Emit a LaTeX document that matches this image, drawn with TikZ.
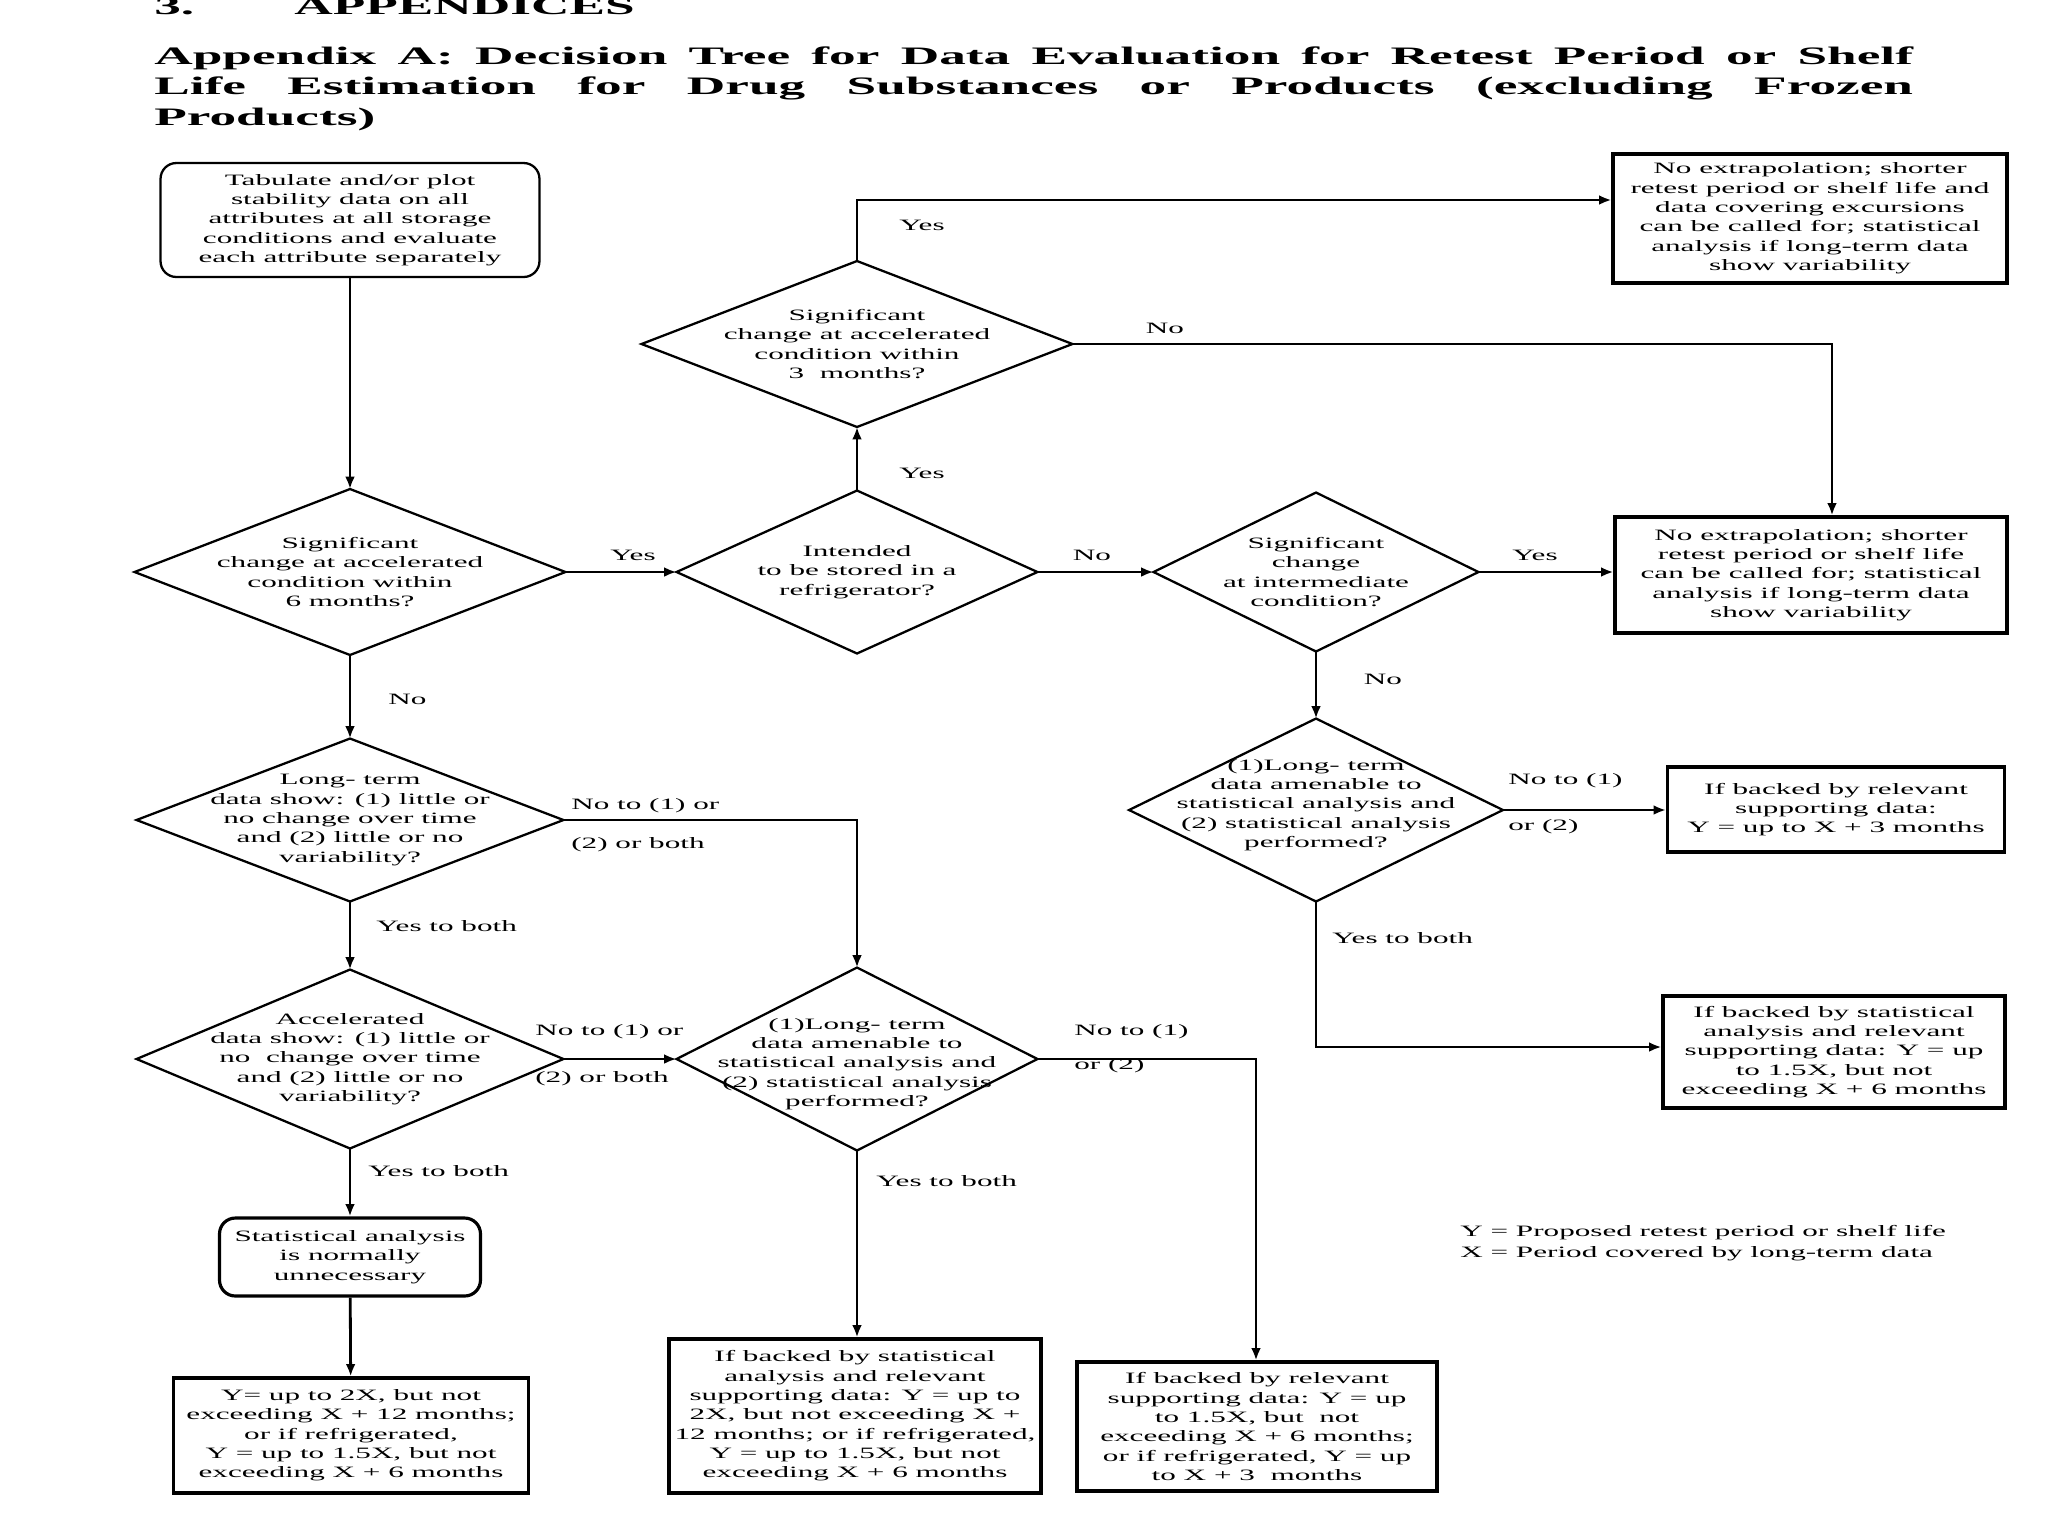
\documentclass[tikz,border=0pt]{standalone}
\usepackage{fontspec}
\setmainfont{Liberation Serif}[FakeStretch=1.97]
\newfontfamily\titlefont{Liberation Serif}[FakeStretch=2.12]
\usetikzlibrary{shapes.geometric,arrows.meta}
\begin{document}
\begin{tikzpicture}[x=0.02cm,y=-0.02cm,
  every node/.style={font=\fontsize{9}{11}\selectfont},
  ttl/.style={anchor=base west,inner sep=0pt,font={\titlefont\bfseries\fontsize{14.3}{17.4}\selectfont}},
  box/.style={draw,rectangle,line width=1.8pt,inner sep=1pt,align=center},
  rbox/.style={box,rounded corners=9pt},
  dia/.style={draw,diamond,line width=1.3pt,inner sep=0pt,outer sep=0pt},
  dtxt/.style={align=center,inner sep=0pt},
  lbl/.style={inner sep=0pt},
  conn/.style={line width=1.6pt,-{Latex[length=7pt,width=5.5pt]}}]
\useasboundingbox (0,0) rectangle (2048,1536);
\fill[white] (0,0) rectangle (2048,1536);

% headings
\node[ttl] (h1) at (154,14) {3.};
\node[ttl] (h2) at (294,14) {APPENDICES};
\node[ttl] (t1) at (154,64) {\makebox[35.18cm][s]{Appendix A: Decision Tree for Data Evaluation for Retest Period or Shelf}};
\node[ttl] (t2) at (154,94) {\makebox[35.18cm][s]{Life Estimation for Drug Substances or Products (excluding Frozen}};
\node[ttl] (t3) at (154,125) {Products)};

% boxes
\node[rbox,line width=1.3pt,minimum width=7.58cm,minimum height=2.28cm] (S0) at (350,220)
  {Tabulate and/or plot\\ stability data on all\\ attributes at all storage\\ conditions and evaluate\\ each attribute separately};
\node[box,minimum width=7.88cm,minimum height=2.58cm] (R1) at (1810,218.5)
  {No extrapolation; shorter\\ retest period or shelf life and\\ data covering excursions\\ can be called for; statistical\\ analysis if long-term data\\ show variability};
\node[box,minimum width=7.84cm,minimum height=2.32cm] (R2) at (1811,575)
  {No extrapolation; shorter\\ retest period or shelf life\\ can be called for; statistical\\ analysis if long-term data\\ show variability};
\node[box,minimum width=6.74cm,minimum height=1.70cm] (R3) at (1836,809.5)
  {If backed by relevant\\ supporting data:\\ Y = up to X + 3 months};
\node[box,minimum width=6.84cm,minimum height=2.24cm] (R4) at (1834,1052)
  {If backed by statistical\\ analysis and relevant\\ supporting data: Y = up\\ to 1.5X, but not\\ exceeding X + 6 months};
\node[rbox,minimum width=5.22cm,minimum height=1.56cm] (S) at (350,1257)
  {Statistical analysis\\ is normally\\ unnecessary};
\node[box,minimum width=7.10cm,minimum height=2.30cm] (B1) at (351,1435.5)
  {Y= up to 2X, but not\\ exceeding X + 12 months;\\ or if refrigerated,\\ Y = up to 1.5X, but not\\ exceeding X + 6 months};
\node[box,inner sep=0pt,minimum width=7.44cm,minimum height=3.08cm] (B2) at (855,1416)
  {If backed by statistical\\ analysis and relevant\\ supporting data: Y = up to\\ 2X, but not exceeding X +\\ 12 months; or if refrigerated,\\ Y = up to 1.5X, but not\\ exceeding X + 6 months};
\node[box,minimum width=7.20cm,minimum height=2.58cm] (B3) at (1257,1426.5)
  {If backed by relevant\\ supporting data: Y = up\\ to 1.5X, but~~not\\ exceeding X + 6 months;\\ or if refrigerated, Y = up\\ to X + 3~~months};

% diamonds
\node[dia,minimum width=8.62cm,minimum height=3.32cm] (D1) at (350,572) {};
\node[dtxt] (D1t) at (D1) {Significant\\ change at accelerated\\ condition within\\ 6 months?};
\node[dia,minimum width=7.22cm,minimum height=3.26cm] (D2) at (857,572) {};
\node[dtxt] (D2t) at (D2) {Intended\\ to be stored in a\\ refrigerator?};
\node[dia,minimum width=8.62cm,minimum height=3.32cm] (D3m) at (857,344) {};
\node[dtxt] (D3mt) at (D3m) {Significant\\ change at accelerated\\ condition within\\ 3~~months?};
\node[dia,minimum width=6.50cm,minimum height=3.18cm] (D3) at (1316,572) {};
\node[dtxt] (D3t) at (D3) {Significant\\ change\\ at intermediate\\ condition?};
\node[dia,minimum width=8.54cm,minimum height=3.26cm] (D4) at (350,820) {};
\node[dtxt] (D4t) at (D4) {Long- term\\ data show: (1) little or\\ no change over time\\ and (2) little or no\\ variability?};
\node[dia,minimum width=8.54cm,minimum height=3.58cm] (D5) at (350,1059) {};
\node[dtxt] (D5t) at (D5) {Accelerated\\ data show: (1) little or\\ no~~change over time\\ and (2) little or no\\ variability?};
\node[dia,minimum width=7.22cm,minimum height=3.66cm] (D6) at (857,1059) {};
\node[dtxt] (D6t) at ([yshift=-0.1cm]D6) {(1)Long- term\\ data amenable to\\ statistical analysis and\\ (2) statistical analysis\\ performed?};
\node[dia,minimum width=7.48cm,minimum height=3.66cm] (D7) at (1316,810) {};
\node[dtxt] (D7t) at ([yshift=0.1cm]D7) {(1)Long- term\\ data amenable to\\ statistical analysis and\\ (2) statistical analysis\\ performed?};

% helper coordinates
\coordinate (c1) at (857,200);
\coordinate (c2) at (1832,344);
\coordinate (c3) at (1316,1047);
\coordinate (c4) at (857,820);
\coordinate (c5) at (1256,1059);

% connectors
\draw[conn] (S0) -- (D1);
\draw[conn] (D1) -- (D2);
\draw[conn] (D2) -- (D3m);
\draw[conn] (D3m.north) -- (c1) -- (c1 -| R1.west);
\draw[conn] (D3m.east) -- (c2) -- (c2 |- R2.north);
\draw[conn] (D2) -- (D3);
\draw[conn] (D3.east) -- (D3.east -| R2.west);
\draw[conn] (D3) -- (D7);
\draw[conn] (D7.east) -- (D7.east -| R3.west);
\draw[conn] (D7.south) -- (c3) -- (c3 -| R4.west);
\draw[conn] (D1) -- (D4);
\draw[conn] (D4.east) -- (c4) -- (D6.north);
\draw[conn] (D4) -- (D5);
\draw[conn] (D5) -- (D6);
\draw[conn] (D5) -- (S);
\draw[conn] (S) -- (B1);
\draw[conn] (D6.south) -- (D6.south |- B2.north);
\draw[conn] (D6.east) -- (c5) -- (c5 |- B3.north);

% connector labels
\node[lbl] (l1) at (633,555) {Yes};
\node[lbl] (l2) at (922,473) {Yes};
\node[lbl] (l3) at (922,225) {Yes};
\node[lbl] (l4) at (1165,328) {No};
\node[lbl] (l5) at (1092,555) {No};
\node[lbl] (l6) at (1535,555) {Yes};
\node[lbl] (l7) at (1383,679) {No};
\node[lbl,anchor=west] (l8) at (1508,781) {No to (1)};
\node[lbl,anchor=west] (l9) at (1508,827) {or (2)};
\node[lbl,anchor=west] (l10) at (1332,938) {Yes to both};
\node[lbl,anchor=west] (l11) at (388,699) {No};
\node[lbl,anchor=west] (l12) at (571,806) {No to (1) or};
\node[lbl,anchor=west] (l13) at (571,845) {(2) or both};
\node[lbl,anchor=west] (l14) at (376,926) {Yes to both};
\node[lbl,anchor=west] (l15) at (535,1032) {No to (1) or};
\node[lbl,anchor=west] (l16) at (535,1079) {(2) or both};
\node[lbl,anchor=west] (l17) at (1074,1032) {No to (1)};
\node[lbl,anchor=west] (l18) at (1074,1066) {or (2)};
\node[lbl,anchor=west] (l19) at (876,1181) {Yes to both};
\node[lbl,anchor=west] (l20) at (368,1171) {Yes to both};

% legend
\node[lbl,anchor=west] (lg1) at (1460,1233) {Y = Proposed retest period or shelf life};
\node[lbl,anchor=west] (lg2) at (1460,1254) {X = Period covered by long-term data};
\end{tikzpicture}
\end{document}
